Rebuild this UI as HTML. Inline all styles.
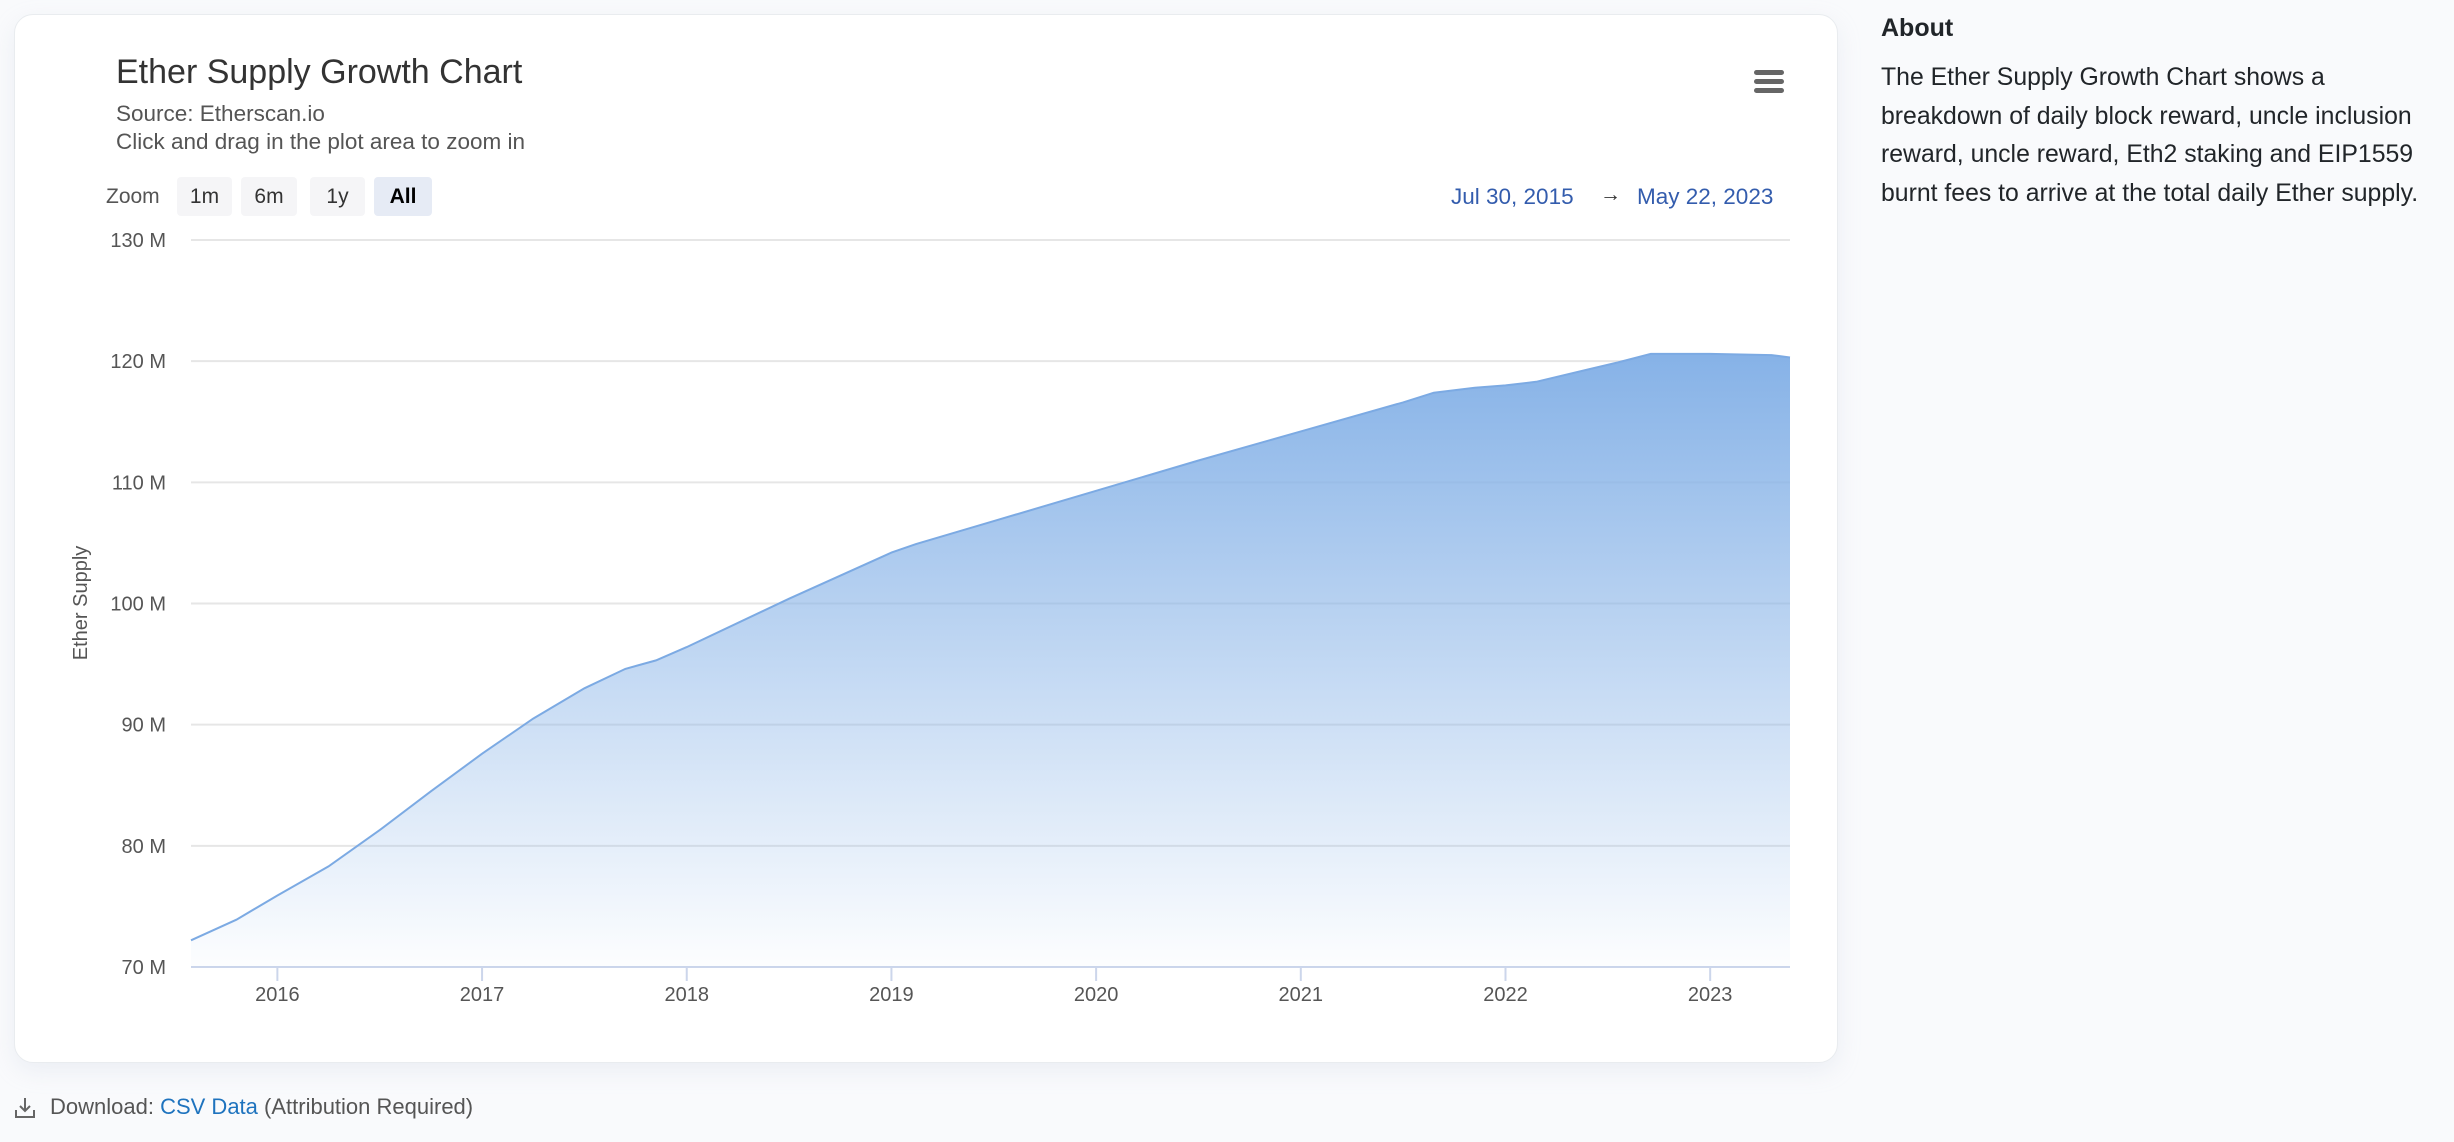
<!DOCTYPE html>
<html><head><meta charset="utf-8">
<style>
html,body{margin:0;padding:0;width:2454px;height:1142px;background:#f9fafc;overflow:hidden;font-family:"Liberation Sans",sans-serif;}
#card{position:absolute;left:14px;top:14px;width:1822px;height:1047px;background:#fff;border:1px solid #e9ecef;border-radius:19px;box-shadow:0 8px 24px rgba(180,190,210,0.18);}
.t{position:absolute;white-space:nowrap;}
.btn{position:absolute;top:177px;height:39px;background:#f5f5f7;border-radius:4px;font-size:21px;color:#333;text-align:center;line-height:39px;}
</style></head><body>
<div id="card"></div>
<div class="t" style="left:116px;top:53px;font-size:34px;color:#333;">Ether Supply Growth Chart</div>
<div class="t" style="left:116px;top:101px;font-size:22.5px;color:#555;">Source: Etherscan.io</div>
<div class="t" style="left:116px;top:129px;font-size:22.5px;color:#555;">Click and drag in the plot area to zoom in</div>
<div class="t" style="left:106px;top:185px;font-size:21px;color:#555;">Zoom</div>
<div class="btn" style="left:177px;width:55px;">1m</div>
<div class="btn" style="left:241px;width:56px;">6m</div>
<div class="btn" style="left:310px;width:55px;">1y</div>
<div class="btn" style="left:374px;width:58px;background:#e6ebf5;color:#000;font-weight:bold;">All</div>
<div class="t" style="left:1451px;top:184px;font-size:22.5px;color:#335cad;">Jul 30, 2015</div>
<div class="t" style="left:1600px;top:183px;font-size:21px;color:#333;">→</div>
<div class="t" style="left:1637px;top:184px;font-size:22.5px;color:#335cad;">May 22, 2023</div>
<div style="position:absolute;left:1754px;top:70px;width:30px;height:24px;">
<div style="height:5px;background:#666;border-radius:3px;margin-bottom:4px"></div>
<div style="height:5px;background:#666;border-radius:3px;margin-bottom:4px"></div>
<div style="height:5px;background:#666;border-radius:3px;"></div></div>
<svg id="chart" style="position:absolute;left:0;top:0" width="1840" height="1060">
<defs><linearGradient id="g" x1="0" y1="0" x2="0" y2="1">
<stop offset="0" stop-color="#86b2e7" stop-opacity="1"/>
<stop offset="1" stop-color="#86b2e7" stop-opacity="0.02"/></linearGradient></defs>
<g id="grid"></g><g id="area"></g><g id="axes"></g>
<text transform="translate(87,603) rotate(-90)" text-anchor="middle" font-size="20" fill="#555" font-family="Liberation Sans">Ether Supply</text>
</svg>
<div class="t" style="left:1881px;top:14px;font-size:25px;font-weight:bold;color:#212529;">About</div>
<div style="position:absolute;left:1881px;top:59px;white-space:nowrap;font-size:24.8px;line-height:38.6px;color:#212529;">The Ether Supply Growth Chart shows a<br>breakdown of daily block reward, uncle inclusion<br>reward, uncle reward, Eth2 staking and EIP1559<br>burnt fees to arrive at the total daily Ether supply.</div>
<svg style="position:absolute;left:13px;top:1096px" width="24" height="24"><path d="M12 2v13M7 10l5 5 5-5M3 14v7h18v-7" fill="none" stroke="#666" stroke-width="2"/></svg>
<div class="t" style="left:50px;top:1094px;font-size:22px;color:#555;">Download: <span style="color:#1e73be">CSV Data</span> (Attribution Required)</div>
<script>
const dates=[2015.578,2015.8,2016.0,2016.25,2016.5,2016.75,2017.0,2017.25,2017.5,2017.7,2017.85,2018.0,2018.5,2019.0,2019.12,2019.5,2020.0,2020.5,2021.0,2021.5,2021.65,2021.85,2022.0,2022.15,2022.4,2022.55,2022.71,2023.0,2023.3,2023.39];
const supply=[72.2,73.9,75.9,78.3,81.3,84.5,87.6,90.5,93.0,94.6,95.3,96.4,100.4,104.2,104.9,106.8,109.3,111.8,114.2,116.6,117.4,117.8,118.0,118.3,119.3,119.9,120.6,120.6,120.5,120.3];
const yTicks=[70,80,90,100,110,120,130];
const xTicks=[2016,2017,2018,2019,2020,2021,2022,2023];
const X0=2015.578,X1=2023.39,PL=191,PR=1790,PT=240,PB=967;
const x=v=>PL+(v-X0)/(X1-X0)*(PR-PL);
const y=v=>PB-(v-70)/60*(PB-PT);
const NS='http://www.w3.org/2000/svg';
function mk(t,a,p){const e=document.createElementNS(NS,t);for(const k in a)e.setAttribute(k,a[k]);p.appendChild(e);return e;}
const grid=document.getElementById('grid'),axes=document.getElementById('axes'),area=document.getElementById('area');
yTicks.forEach(v=>{
 const l=mk('line',{x1:PL,x2:PR,y1:y(v),y2:y(v),stroke:v===70?'#ccd6eb':'#e6e6e6','stroke-width':2},grid);
 
 
 const t=mk('text',{x:166,y:y(v)+7,'text-anchor':'end','font-size':20,fill:'#555','font-family':'Liberation Sans'},axes);
 t.textContent=v+' M';
 
 
});
xTicks.forEach(v=>{
 const l=mk('line',{x1:x(v),x2:x(v),y1:PB,y2:PB+14,stroke:'#ccd6eb','stroke-width':2},axes);
 
 
 const t=mk('text',{x:x(v),y:PB+34,'text-anchor':'middle','font-size':20,fill:'#555','font-family':'Liberation Sans'},axes);
 t.textContent=v;
 
 
});
let d='';dates.forEach((v,i)=>{d+=(i?'L':'M')+x(v).toFixed(1)+','+y(supply[i]).toFixed(1);});
const minY=Math.min(...supply.map(y));
const g2=document.getElementById('g');g2.setAttribute('gradientUnits','userSpaceOnUse');g2.setAttribute('y1',minY);g2.setAttribute('y2',PB);
const a=mk('path',{d:d+'L'+x(dates[dates.length-1])+','+PB+'L'+x(dates[0])+','+PB+'Z',fill:'url(#g)'},area);


const ln=mk('path',{d:d,fill:'none',stroke:'#7caae3','stroke-width':2},area);


</script>
</body></html>
